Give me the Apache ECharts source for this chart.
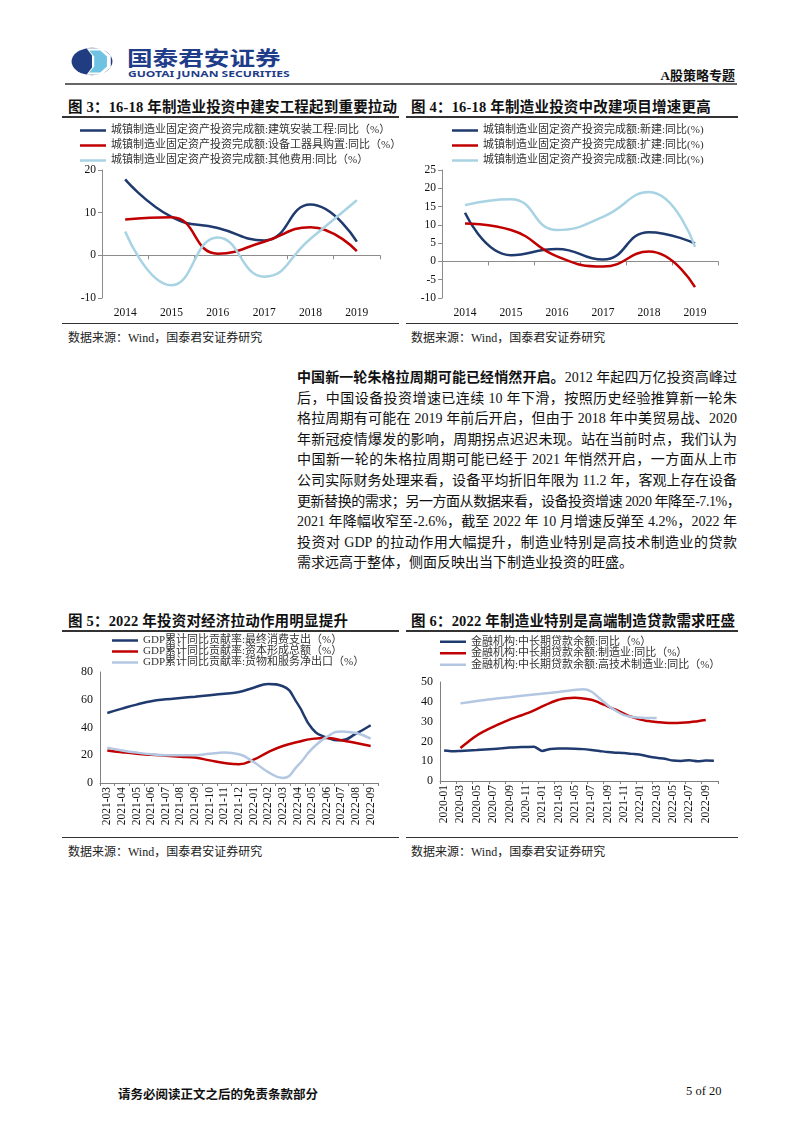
<!DOCTYPE html>
<html>
<head>
<meta charset="utf-8">
<title>A股策略专题</title>
<script src="https://cdn.jsdelivr.net/npm/echarts@6/dist/echarts.min.js"></script>
<style>
  body { margin: 0; background: #fff; }
  #page { position: relative; width: 802px; height: 1133px; overflow: hidden; font-family: "Liberation Serif", "Noto Sans CJK SC", serif; color: #111; }
  .abs { position: absolute; }
  .rule { position: absolute; background: #333; }
  .ftitle { position: absolute; font-size: 14.5px; font-weight: bold; white-space: nowrap; letter-spacing: 0.2px; }
  .src { position: absolute; font-size: 12px; white-space: nowrap; color: #222; }
  .chart { position: absolute; }
  #para { position: absolute; left: 297px; top: 368px; width: 440px; font-size: 14px; line-height: 20.6px; }
  #para div { white-space: nowrap; text-align: justify; text-align-last: justify; }
  #para div.last { text-align-last: left; }
  #para div.tight { letter-spacing: -0.45px; }
</style>
</head>
<body>
<div id="page">
  <!-- 页眉 -->
  <svg class="abs" style="left:71px;top:47px" width="42" height="29" viewBox="0 0 38 34" preserveAspectRatio="none">
    <ellipse cx="19" cy="17" rx="18.5" ry="16" fill="#1f3d80"/>
    <path d="M14 1.5 L28 1.5 L36 10 L36 24 L28 32.5 L14 32.5 L19 24 L19 10 Z" fill="#fff"/>
    <path d="M16.5 4 L26.5 4 L32.5 11 L32.5 23 L26.5 30 L16.5 30 L21 23 L21 11 Z" fill="#6ec3e2"/>
  </svg>
  <div class="abs" style="left:127px;top:48px;font-size:20px;line-height:20px;font-weight:bold;color:#1f3d88;font-family:'Noto Sans CJK SC';white-space:nowrap;transform:scaleX(1.28);transform-origin:0 0">国泰君安证券</div>
  <div class="abs" style="left:128px;top:68px;font-size:8.5px;font-weight:bold;color:#1f3d88;font-family:'Noto Sans','DejaVu Sans';white-space:nowrap;transform:scaleX(1.42);transform-origin:0 0">GUOTAI JUNAN SECURITIES</div>
  <div class="abs" style="right:67px;top:65px;font-size:13px;font-weight:bold;white-space:nowrap">A股策略专题</div>
  <div class="rule" style="left:65px;top:83px;width:672px;height:2px;background:#666"></div>

  <!-- 图3 图4 -->
  <div class="ftitle" style="left:68px;top:95px">图 3：16-18 年制造业投资中建安工程起到重要拉动</div>
  <div class="rule" style="left:62px;top:116px;width:337px;height:1.5px"></div>
  <div class="ftitle" style="left:411px;top:95px">图 4：16-18 年制造业投资中改建项目增速更高</div>
  <div class="rule" style="left:406px;top:116px;width:332px;height:1.5px"></div>
  <div id="c3" class="chart" style="left:60px;top:120px;width:340px;height:203px"></div>
  <div id="c4" class="chart" style="left:405px;top:120px;width:333px;height:203px"></div>
  <div class="rule" style="left:62px;top:323px;width:337px;height:1px"></div>
  <div class="rule" style="left:406px;top:323px;width:332px;height:1px"></div>
  <div class="src" style="left:68px;top:328px">数据来源：Wind，国泰君安证券研究</div>
  <div class="src" style="left:411px;top:328px">数据来源：Wind，国泰君安证券研究</div>

  <!-- 正文 -->
  <div id="para">
    <div><b>中国新一轮朱格拉周期可能已经悄然开启。</b>2012 年起四万亿投资高峰过</div>
    <div>后，中国设备投资增速已连续 10 年下滑，按照历史经验推算新一轮朱</div>
    <div>格拉周期有可能在 2019 年前后开启，但由于 2018 年中美贸易战、2020</div>
    <div>年新冠疫情爆发的影响，周期拐点迟迟未现。站在当前时点，我们认为</div>
    <div>中国新一轮的朱格拉周期可能已经于 2021 年悄然开启，一方面从上市</div>
    <div>公司实际财务处理来看，设备平均折旧年限为 11.2 年，客观上存在设备</div>
    <div class="tight">更新替换的需求；另一方面从数据来看，设备投资增速 2020 年降至-7.1%，</div>
    <div>2021 年降幅收窄至-2.6%，截至 2022 年 10 月增速反弹至 4.2%，2022 年</div>
    <div>投资对 GDP 的拉动作用大幅提升，制造业特别是高技术制造业的贷款</div>
    <div class="last">需求远高于整体，侧面反映出当下制造业投资的旺盛。</div>
  </div>

  <!-- 图5 图6 -->
  <div class="ftitle" style="left:68px;top:609px">图 5：2022 年投资对经济拉动作用明显提升</div>
  <div class="rule" style="left:62px;top:630px;width:337px;height:1.5px"></div>
  <div class="ftitle" style="left:411px;top:609px">图 6：2022 年制造业特别是高端制造贷款需求旺盛</div>
  <div class="rule" style="left:406px;top:630px;width:332px;height:1.5px"></div>
  <div id="c5" class="chart" style="left:60px;top:633px;width:340px;height:203px"></div>
  <div id="c6" class="chart" style="left:405px;top:633px;width:333px;height:203px"></div>
  <div class="rule" style="left:62px;top:837px;width:337px;height:1px"></div>
  <div class="rule" style="left:406px;top:837px;width:332px;height:1px"></div>
  <div class="src" style="left:68px;top:842px">数据来源：Wind，国泰君安证券研究</div>
  <div class="src" style="left:411px;top:842px">数据来源：Wind，国泰君安证券研究</div>

  <!-- 页脚 -->
  <div class="abs" style="left:118px;top:1084px;font-size:12.5px;font-weight:bold;white-space:nowrap">请务必阅读正文之后的免责条款部分</div>
  <div class="abs" style="left:686px;top:1084px;font-size:12.5px;white-space:nowrap">5 of 20</div>
</div>

<script type="text/javascript">
// 图3：城镇制造业固定资产投资完成额 同比（%）
var years = ['2014', '2015', '2016', '2017', '2018', '2019'];
var f3Build = [17.8, 9.0, 6.4, 3.5, 11.9, 3.2];
var f3Equip = [8.4, 8.9, 0.4, 3.2, 6.6, 1.0];
var f3Other = [5.6, -7.0, 4.2, -5.0, 3.9, 12.9];

// 图4：新建 / 扩建 / 改建 同比（%）
var f4New = [13.3, 1.7, 3.4, 0.5, 8.0, 4.9];
var f4Expand = [10.4, 8.6, 1.4, -1.4, 2.7, -7.0];
var f4Rebuild = [15.4, 17.0, 8.6, 12.2, 19.0, 4.0];

// 图5：GDP累计同比贡献率（%）
var months5 = ['2021-03', '2021-04', '2021-05', '2021-06', '2021-07', '2021-08', '2021-09', '2021-10', '2021-11', '2021-12',
               '2022-01', '2022-02', '2022-03', '2022-04', '2022-05', '2022-06', '2022-07', '2022-08', '2022-09'];
var f5Cons = [50.5, 53.6, 56.5, 58.9, 60.3, 61.3, 62.2, 63.2, 64.4, 65.6, 68.7, 71.3, 69.7, 57.2, 39.2, 32.7, 30.8, 35.6, 41.6];
var f5Cap = [23.5, 22.2, 21.1, 20.3, 19.7, 19.0, 18.3, 16.3, 14.4, 13.5, 16.8, 22.3, 26.7, 29.5, 31.8, 32.5, 30.8, 28.8, 26.7];
var f5Net = [25.5, 23.5, 21.9, 20.7, 20.0, 20.0, 20.0, 21.1, 21.9, 20.7, 15.1, 7.9, 3.6, 12.3, 24.7, 33.2, 37.2, 36.0, 32.0];

// 图6：金融机构中长期贷款余额 同比（%）
var months6 = ['2020-01', '2020-02', '2020-03', '2020-04', '2020-05', '2020-06', '2020-07', '2020-08', '2020-09', '2020-10', '2020-11', '2020-12',
               '2021-01', '2021-02', '2021-03', '2021-04', '2021-05', '2021-06', '2021-07', '2021-08', '2021-09', '2021-10', '2021-11', '2021-12',
               '2022-01', '2022-02', '2022-03', '2022-04', '2022-05', '2022-06', '2022-07', '2022-08', '2022-09', '2022-10'];
var f6Total = [15.4, 15.0, 15.2, 15.4, 15.6, 15.9, 16.2, 16.5, 16.9, 17.1, 17.2, 17.3,
               15.2, 16.2, 16.4, 16.4, 16.3, 16.1, 15.7, 15.2, 14.6, 14.3, 14.1, 13.7,
               13.3, 12.4, 11.7, 11.2, 10.3, 10.1, 10.5, 10.0, 10.3, 10.2];
var f6Mfg = [null, null, 16.7, 20.0, 23.0, 25.3, 27.3, 29.2, 31.0, 32.5, 34.0, 35.7,
             37.7, 39.5, 41.0, 41.8, 42.0, 41.7, 41.0, 39.5, 37.7, 36.0, 34.0, 32.3,
             31.0, 30.3, 29.8, 29.4, 29.3, 29.4, 29.7, 30.2, 30.8, null];
var f6Tech = [null, null, 39.2, null, null, 40.9, null, null, 42.3, null, null, 43.7,
              null, null, 45.0, null, null, 46.3, 45.2, 41.8, 38.3, 35.5, 33.3, 32.3,
              32.0, 31.8, 31.8, null, null, null, null, null, null, null];

var NAVY = '#1f3a6e', RED = '#c00000', LIGHT = '#a8d3e3', LIGHT2 = '#b3c7e2';
var FONT = '"Liberation Serif", "Noto Sans CJK SC", serif';

function legendOf(names, left, top, rowH) {
    return {
        orient: 'vertical', left: left, top: top, padding: 0,
        icon: 'rect', itemWidth: 26, itemHeight: 2.5, itemGap: 0,
        data: names,
        textStyle: { fontFamily: FONT, fontSize: 11, color: '#333', lineHeight: rowH, height: rowH }
    };
}

function lineSeries(name, data, color, smooth) {
    return {
        name: name, type: 'line', data: data, smooth: smooth,
        showSymbol: false, symbol: 'none', connectNulls: true,
        lineStyle: { color: color, width: 2.5 }, itemStyle: { color: color }
    };
}

function yearChart(id, gridLeft, gridWidth, legendLeft, names, s, ymin, ymax, step) {
    var chart = echarts.init(document.getElementById(id));
    chart.setOption({
        animation: false,
        legend: legendOf(names, legendLeft, 3, 15),
        grid: { left: gridLeft, top: 50, width: gridWidth, height: 128 },
        xAxis: [{
            type: 'category', data: years,
            axisLine: { show: false, onZero: false }, axisTick: { show: false },
            axisLabel: { fontFamily: FONT, fontSize: 11.5, color: '#111', margin: 9 }
        }, {
            type: 'category', data: years, position: 'bottom',
            axisLine: { onZero: true, lineStyle: { color: '#8c8c8c', width: 1 } },
            axisTick: { show: true, length: 4, lineStyle: { color: '#8c8c8c' } },
            axisLabel: { show: false }
        }],
        yAxis: {
            type: 'value', min: ymin, max: ymax, interval: step,
            axisLine: { show: true, lineStyle: { color: '#8c8c8c' } },
            axisTick: { show: true, length: 4, lineStyle: { color: '#8c8c8c' } },
            splitLine: { show: false },
            axisLabel: { fontFamily: FONT, fontSize: 11.5, color: '#111', margin: 6 }
        },
        series: [
            lineSeries(names[0], s[0], NAVY, 0.5),
            lineSeries(names[1], s[1], RED, 0.5),
            lineSeries(names[2], s[2], LIGHT, 0.5)
        ]
    });
}

yearChart('c3', 42, 278, 20,
    ['城镇制造业固定资产投资完成额:建筑安装工程:同比（%）',
     '城镇制造业固定资产投资完成额:设备工器具购置:同比（%）',
     '城镇制造业固定资产投资完成额:其他费用:同比（%）'],
    [f3Build, f3Equip, f3Other], -10, 20, 10);

yearChart('c4', 37, 276, 47,
    ['城镇制造业固定资产投资完成额:新建:同比(%)',
     '城镇制造业固定资产投资完成额:扩建:同比(%)',
     '城镇制造业固定资产投资完成额:改建:同比(%)'],
    [f4New, f4Expand, f4Rebuild], -10, 25, 5);

// 图5
var c5 = echarts.init(document.getElementById('c5'));
var names5 = ['GDP累计同比贡献率:最终消费支出（%）', 'GDP累计同比贡献率:资本形成总额（%）', 'GDP累计同比贡献率:货物和服务净出口（%）'];
c5.setOption({
    animation: false,
    legend: legendOf(names5, 52, 2, 11),
    grid: { left: 40, top: 39, width: 278, height: 111 },
    xAxis: {
        type: 'category', data: months5,
        axisLine: { lineStyle: { color: '#7f7f7f' } },
        axisTick: { show: true, length: 3, lineStyle: { color: '#7f7f7f' } },
        axisLabel: { interval: 0, rotate: 90, fontFamily: FONT, fontSize: 11.5, color: '#111', margin: 4 }
    },
    yAxis: {
        type: 'value', min: 0, max: 80, interval: 20,
        axisLine: { show: true, lineStyle: { color: '#7f7f7f' } },
        axisTick: { show: false },
        splitLine: { show: false },
        axisLabel: { fontFamily: FONT, fontSize: 12, color: '#111', margin: 7 }
    },
    series: [
        lineSeries(names5[0], f5Cons, NAVY, 0.5),
        lineSeries(names5[1], f5Cap, RED, 0.5),
        lineSeries(names5[2], f5Net, LIGHT2, 0.5)
    ]
});

// 图6
var c6 = echarts.init(document.getElementById('c6'));
var names6 = ['金融机构:中长期贷款余额:同比（%）', '金融机构:中长期贷款余额:制造业:同比（%）', '金融机构:中长期贷款余额:高技术制造业:同比（%）'];
c6.setOption({
    animation: false,
    legend: legendOf(names6, 35, 3, 11.5),
    grid: { left: 35, top: 49, width: 278, height: 99 },
    xAxis: {
        type: 'category', data: months6,
        axisLine: { lineStyle: { color: '#7f7f7f' } },
        axisTick: { show: true, length: 3, interval: 1, lineStyle: { color: '#7f7f7f' } },
        axisLabel: { interval: 1, rotate: 90, fontFamily: FONT, fontSize: 11.5, color: '#111', margin: 4 }
    },
    yAxis: {
        type: 'value', min: 0, max: 50, interval: 10,
        axisLine: { show: true, lineStyle: { color: '#7f7f7f' } },
        axisTick: { show: false },
        splitLine: { show: false },
        axisLabel: { fontFamily: FONT, fontSize: 12, color: '#111', margin: 7 }
    },
    series: [
        lineSeries(names6[0], f6Total, NAVY, 0.2),
        lineSeries(names6[1], f6Mfg, RED, 0.5),
        lineSeries(names6[2], f6Tech, LIGHT2, 0.3)
    ]
});
</script>
</body>
</html>
